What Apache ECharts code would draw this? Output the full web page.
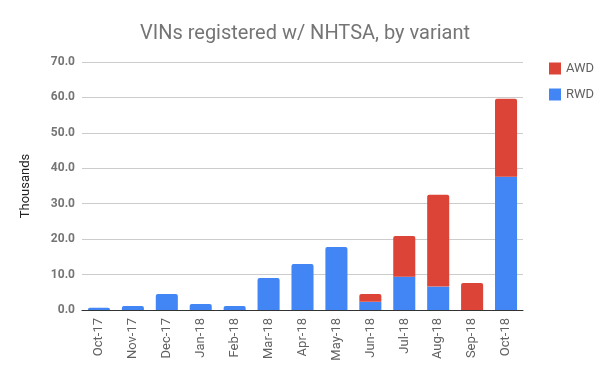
<!DOCTYPE html>
<html><head><meta charset="utf-8">
<script src="https://cdn.jsdelivr.net/npm/echarts@6/dist/echarts.min.js"></script>
<style>html,body{margin:0;padding:0;background:#fff}#c{width:610px;height:377px}</style>
</head><body><div id="c"></div>
<script>
const categories = ['Oct-17','Nov-17','Dec-17','Jan-18','Feb-18','Mar-18','Apr-18','May-18','Jun-18','Jul-18','Aug-18','Sep-18','Oct-18'];
const rwd = [0.6, 1.1, 4.5, 1.7, 1.1, 9.0, 13.0, 17.8, 2.3, 9.4, 6.6, 0, 37.6];
const awd = [0, 0, 0, 0, 0, 0, 0, 0, 2.2, 11.5, 25.9, 7.6, 22.0];
const yTicks = [0, 10, 20, 30, 40, 50, 60, 70];

const chart = echarts.init(document.getElementById('c'), null, {renderer:'canvas'});
const font = 'Roboto, "Noto Sans", sans-serif';
chart.setOption({
  animation:false,
  title:{text:'VINs registered w/ NHTSA, by variant', left:'center', top:19,
    textStyle:{fontFamily:font, fontSize:20, fontWeight:'normal', color:'#757575'}},
  legend:{orient:'vertical', left:544, top:57, itemWidth:12, itemHeight:12, itemGap:13,
    icon:'rect', data:['AWD','RWD'],
    textStyle:{fontFamily:font, fontSize:13, color:'#616161'}},
  grid:{left:82, right:87, top:62, bottom:67, containLabel:false},
  xAxis:{type:'category', data:categories,
    axisLine:{lineStyle:{color:'#333', width:1}}, axisTick:{show:false},
    axisLabel:{rotate:90, fontFamily:font, fontSize:13, color:'#616161', margin:8, interval:0}},
  yAxis:{type:'value', min:yTicks[0], max:yTicks[yTicks.length-1], interval:10,
    name:'Thousands', nameLocation:'middle', nameGap:50,
    nameTextStyle:{fontFamily:font, fontSize:13, color:'#222'},
    axisLine:{show:false}, axisTick:{show:false},
    splitLine:{lineStyle:{color:'#cccccc'}},
    axisLabel:{fontFamily:font, fontSize:12, fontWeight:'bold', color:'#757575', margin:7,
      formatter:v=>v.toFixed(1)}},
  series:[
    {name:'RWD', type:'bar', stack:'t', barWidth:'65%',
      itemStyle:{color:'#4285F4'},
      data:rwd.map((v,i)=>({value:v, itemStyle:{borderRadius: awd[i]>0?0:[2,2,0,0]}}))},
    {name:'AWD', type:'bar', stack:'t', barWidth:'65%',
      itemStyle:{color:'#DB4437', borderRadius:[2,2,0,0]},
      data:awd}
  ]
});
</script></body></html>
